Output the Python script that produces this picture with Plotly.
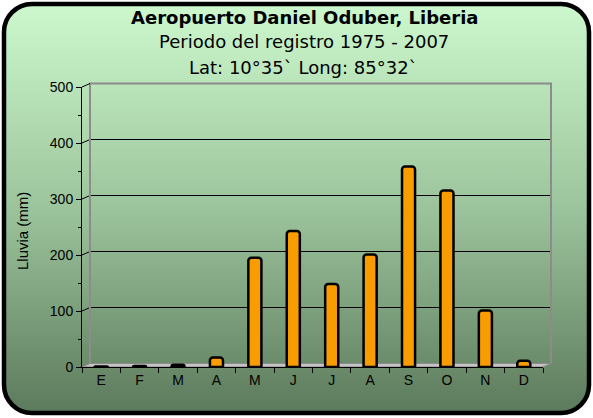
import base64
import plotly.graph_objects as go

# Lluvia mensual promedio, Aeropuerto Daniel Oduber (Liberia)
meses = ["E", "F", "M", "A", "M", "J", "J", "A", "S", "O", "N", "D"]
lluvia = [1, 2, 4, 17, 195, 243, 148, 201, 358, 315, 101, 11]
y_ticks = [0, 100, 200, 300, 400, 500]

titulo = "Aeropuerto Daniel Oduber, Liberia"
subtitulo1 = "Periodo del registro 1975 - 2007"
subtitulo2 = "Lat: 10°35` Long: 85°32`"

W, H = 593, 418
ML, MR, MT, MB = 82, 50, 87, 51
PW, PH = W - ML - MR, H - MT - MB


def px_x(p):
    return (p - ML) / PW


def px_y(p):
    return 1 - (p - MT) / PH


# fondo: rectangulo redondeado con degradado verde
svg = (
    '<svg xmlns="http://www.w3.org/2000/svg" width="593" height="418">'
    '<defs><linearGradient id="g" x1="0" y1="0" x2="0" y2="1">'
    '<stop offset="0" stop-color="#cdf8cd"/>'
    '<stop offset="0.5" stop-color="#9cc49c"/>'
    '<stop offset="1" stop-color="#5c7a5c"/>'
    '</linearGradient></defs>'
    '<rect x="4" y="4" width="585" height="409" rx="28" ry="28" '
    'fill="url(#g)" stroke="#000" stroke-width="4.5"/></svg>'
)
fondo = "data:image/svg+xml;base64," + base64.b64encode(svg.encode()).decode()

n = len(meses)
y_max = y_ticks[-1]
# profundidad del efecto 3D, en fraccion del area de trazado
dx = 8 / PW
dy = 3.5 / PH

fig = go.Figure()
fig.add_trace(go.Bar(
    x=list(range(n)), y=lluvia, width=0.34,
    marker=dict(color="#f89c00", line=dict(color="black", width=2.5), cornerradius=3),
    hoverinfo="x+y",
))

shapes = []
# piso gris
shapes.append(dict(
    type="path", xref="paper", yref="paper", layer="below",
    path=f"M 0,0 L {dx},{dy} L {1 + dx},{dy} L 1,0 Z",
    fillcolor="#c4c4c4", line=dict(color="#8a8a8a", width=1),
))
# lineas de la cuadricula en la pared trasera
for v in y_ticks[1:-1]:
    yp = v / y_max
    shapes.append(dict(
        type="path", xref="paper", yref="paper", layer="below",
        path=f"M 0,{yp} L {dx},{yp + dy} L {1 + dx},{yp + dy}",
        line=dict(color="black", width=1),
    ))
# marco gris de la pared trasera
shapes.append(dict(
    type="path", xref="paper", yref="paper", layer="below",
    path=f"M {dx},{dy} L {dx},{1 + dy} L {1 + dx},{1 + dy} L {1 + dx},{dy}",
    line=dict(color="#8c8c8c", width=2),
))
shapes.append(dict(
    type="path", xref="paper", yref="paper", layer="below",
    path=f"M 1,0 L {1 + dx},{dy}",
    line=dict(color="#8c8c8c", width=1),
))
shapes.append(dict(
    type="path", xref="paper", yref="paper", layer="below",
    path=f"M 0,1 L {dx},{1 + dy}",
    line=dict(color="black", width=1),
))

annotations = [
    dict(text=f"<b>{titulo}</b>", x=px_x(304), y=px_y(17), font=dict(size=18)),
    dict(text=subtitulo1, x=px_x(304), y=px_y(42), font=dict(size=18)),
    dict(text=subtitulo2, x=px_x(303), y=px_y(67), font=dict(size=18)),
]
for a in annotations:
    a.update(xref="paper", yref="paper", showarrow=False,
             xanchor="center", yanchor="middle")
    a["font"].update(family="DejaVu Sans", color="black")
annotations.append(dict(
    text="Lluvia (mm)", xref="paper", yref="paper", x=px_x(22), y=px_y(231),
    showarrow=False, textangle=-90, xanchor="center", yanchor="middle",
    font=dict(family="Liberation Sans, Arial", size=15, color="black"),
))

fig.update_layout(
    width=W, height=H,
    margin=dict(l=ML, r=MR, t=MT, b=MB),
    paper_bgcolor="white", plot_bgcolor="rgba(0,0,0,0)",
    showlegend=False,
    shapes=shapes,
    annotations=annotations,
    images=[dict(
        source=fondo, xref="paper", yref="paper",
        x=px_x(0), y=px_y(0), sizex=W / PW, sizey=H / PH,
        xanchor="left", yanchor="top", sizing="stretch", layer="below",
    )],
    font=dict(family="Liberation Sans, Arial", size=14, color="black"),
)
fig.update_xaxes(
    range=[-0.5, n - 0.5], tickvals=list(range(n)), ticktext=meses,
    showline=True, linecolor="black", linewidth=1, showgrid=False,
    ticks="", zeroline=False, fixedrange=True,
    minor=dict(tickmode="linear", tick0=-0.5, dtick=1, ticks="outside",
               ticklen=5, tickcolor="black", showgrid=False),
)
fig.update_yaxes(
    range=[0, y_max], tickvals=y_ticks,
    showline=True, linecolor="black", linewidth=1, showgrid=False,
    ticks="outside", ticklen=5, tickcolor="black", zeroline=False,
    minor=dict(tickmode="linear", tick0=50, dtick=100, ticks="outside",
               ticklen=3, tickcolor="black", showgrid=False),
    fixedrange=True,
)

fig.write_html("out.html", config={"displayModeBar": False},
               post_script="document.body.style.margin='0';")
